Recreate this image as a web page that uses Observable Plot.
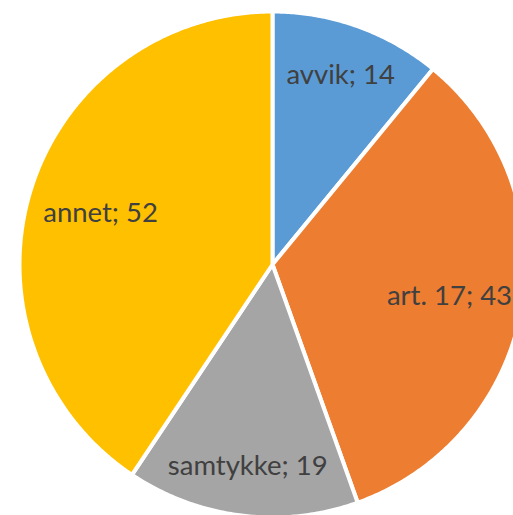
<!DOCTYPE html>
<html>
<head>
<meta charset="utf-8">
<script src="https://cdn.jsdelivr.net/npm/d3@7"></script>
<script src="https://cdn.jsdelivr.net/npm/@observablehq/plot@0.6"></script>
<style>
  html, body { margin: 0; padding: 0; background: #fff; overflow: hidden; }
  #chart svg { display: block; }
</style>
</head>
<body>
<div id="chart"></div>
<script>
const categories = ["avvik", "art. 17", "samtykke", "annet"];
const values = [14, 43, 19, 52];
const colors = ["#5B9BD5", "#ED7D31", "#A5A5A5", "#FFC000"];

const W = 513, H = 515, cx = 272, cy = 264, R = 253;

const data = categories.map((c, i) => ({ category: c, value: values[i] }));
const arcs = d3.pie().sort(null).value(d => d.value)(data);

const pts = [];
for (const a of arcs) {
  const key = a.data.category;
  pts.push({ key, x: 0, y: 0 });
  const n = Math.max(8, Math.ceil((a.endAngle - a.startAngle) * 120));
  for (let k = 0; k <= n; k++) {
    const t = a.startAngle + (a.endAngle - a.startAngle) * k / n;
    pts.push({ key, x: Math.sin(t), y: Math.cos(t) });
  }
}

const labels = arcs.map(a => {
  const m = (a.startAngle + a.endAngle) / 2;
  const f = a.data.value < 20 ? 0.8 : 0.71;
  return { label: `${a.data.category}; ${a.data.value}`, x: f * Math.sin(m), y: f * Math.cos(m) };
});

const chart = Plot.plot({
  width: W,
  height: H,
  margin: 0,
  x: { domain: [-cx / R, (W - cx) / R], axis: null },
  y: { domain: [-(H - cy) / R, cy / R], axis: null },
  color: { domain: categories, range: colors },
  marks: [
    Plot.line(pts, { x: "x", y: "y", z: "key", fill: "key", stroke: "white", strokeWidth: 4, curve: "linear-closed", strokeLinejoin: "round" }),
    Plot.text(labels, { x: "x", y: "y", text: "label", fill: "#404040", fontSize: 27.5, fontFamily: "Lato", textAnchor: "middle", dy: 1 })
  ]
});
document.getElementById("chart").appendChild(chart);
</script>
</body>
</html>
